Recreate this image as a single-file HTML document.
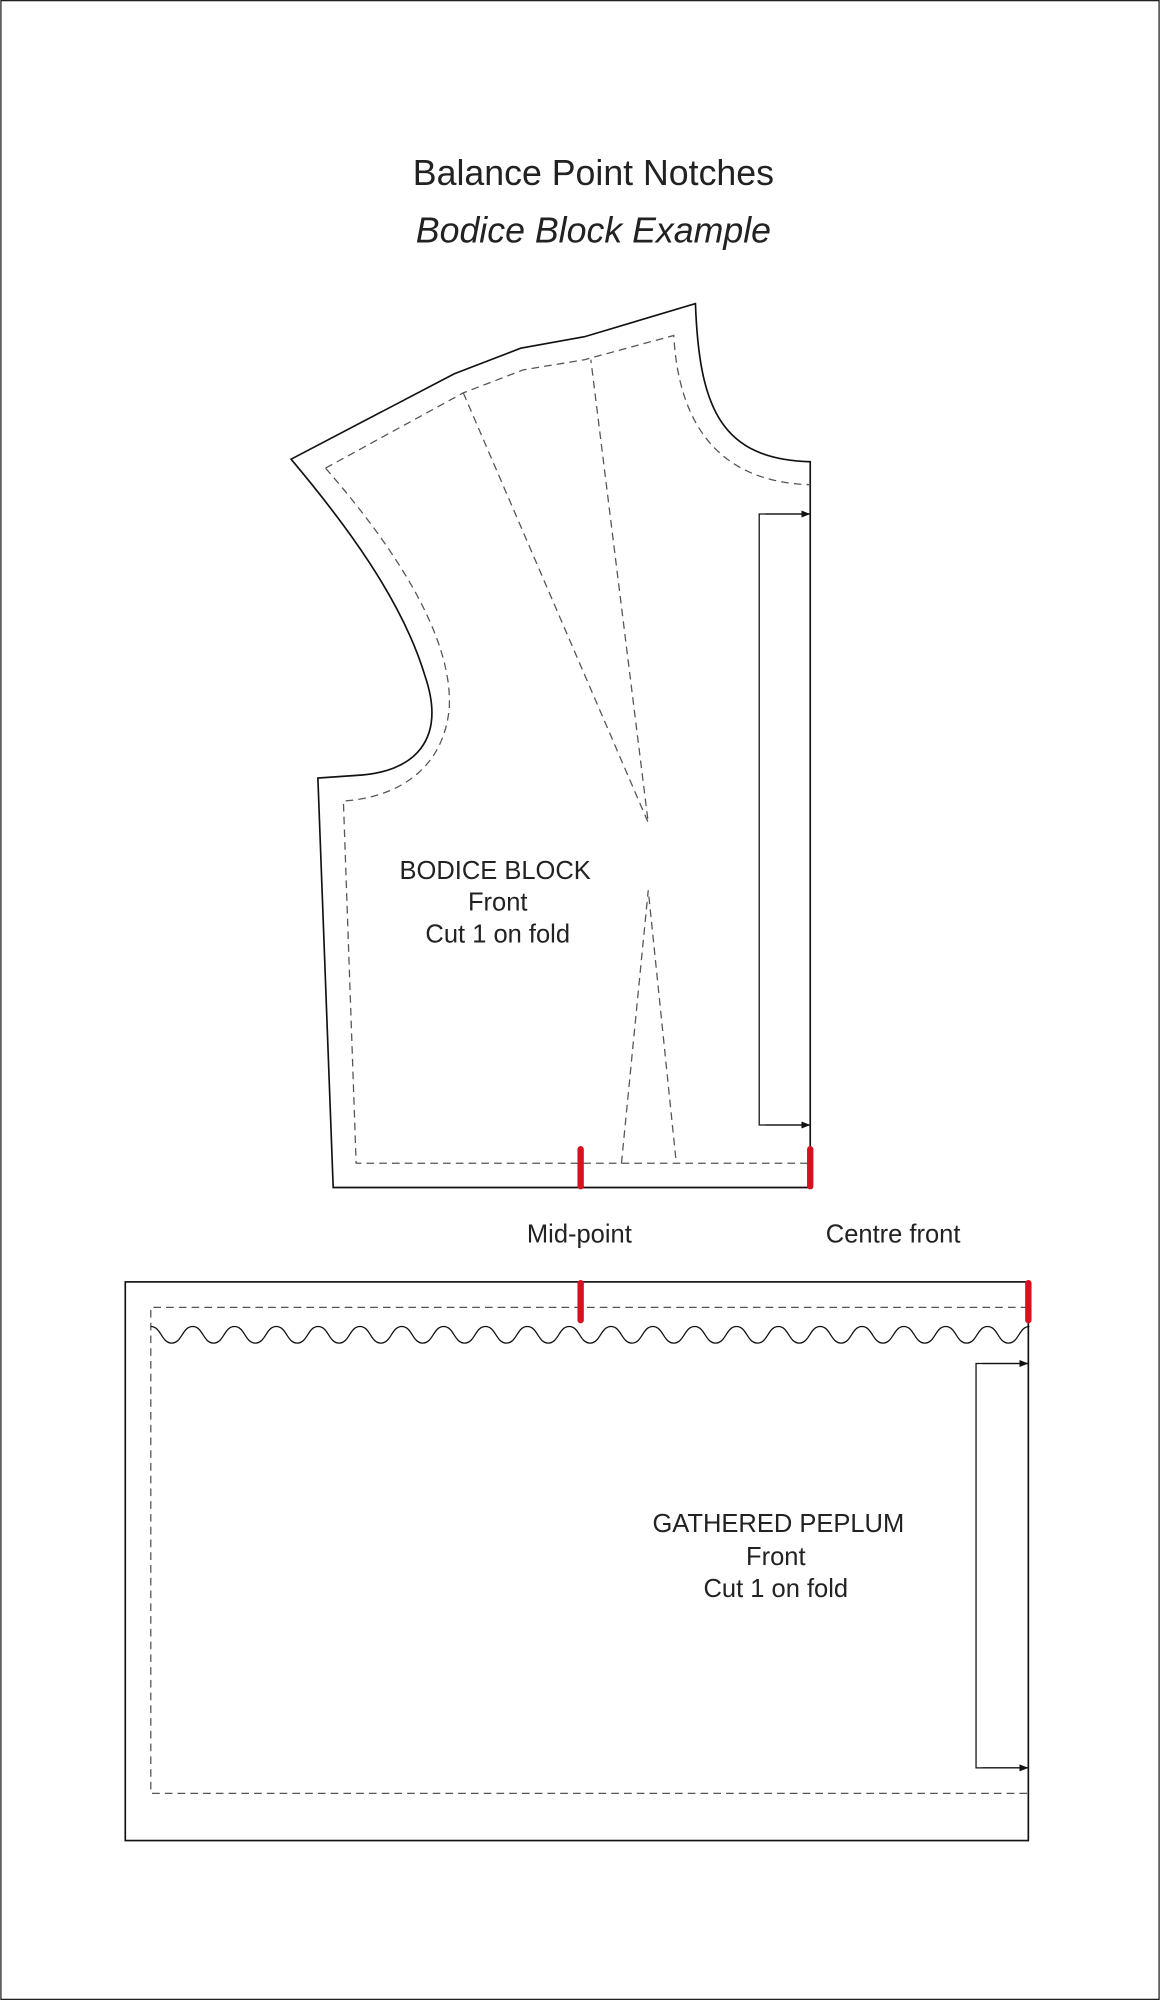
<!DOCTYPE html>
<html><head><meta charset="utf-8"><style>
html,body{margin:0;padding:0;background:#fff;}
svg{display:block;}
text{font-family:"Liberation Sans",sans-serif;fill:#222;}
</style></head><body>
<svg width="1160" height="2000" viewBox="0 0 909 1568" xmlns="http://www.w3.org/2000/svg">
<defs>
<marker id="ar" viewBox="0 0 10 10" refX="10" refY="5" markerWidth="7" markerHeight="7" markerUnits="userSpaceOnUse" orient="auto"><path d="M0,1 L10,5 L0,9 z" fill="#111"/></marker>
</defs>
<rect x="0.5" y="0.5" width="908" height="1567" fill="#fff" stroke="#222" stroke-width="1"/>
<text x="465" y="145" font-size="28" text-anchor="middle">Balance Point Notches</text>
<text x="465" y="190" font-size="28" text-anchor="middle" font-style="italic">Bodice Block Example</text>

<path d="M228,360 L356,293 L408,273 L458,264 L545,238 C548,320 565,360 635,362 L635,931 L261,931 L249,610 L278,608 C325,606 350,580 333,530 C315,470 270,410 228,360 Z" fill="none" stroke="#111" stroke-width="1.3"/>
<g fill="none" stroke="#555" stroke-width="1" stroke-dasharray="6,4">
<path d="M255,367 L363,308 L410,290 L458,282 L528,263 C532,335 565,378 635,380"/>
<path d="M255,367 C310,430 355,500 352,555 C348,600 315,625 269,628 L279,912 L635,912"/>
<path d="M363,308 L508,645 L463,282"/>
<path d="M487,912 L508,698 L530,912"/>
</g>
<g fill="none" stroke="#111" stroke-width="1">
<path d="M635,403 L595,403 L595,882 L635,882" />
<line x1="600" y1="403" x2="635" y2="403" marker-end="url(#ar)"/>
<line x1="600" y1="882" x2="635" y2="882" marker-end="url(#ar)"/>
</g>
<g stroke="#d8101f" stroke-width="5" stroke-linecap="round">
<line x1="455" y1="901" x2="455" y2="930"/>
<line x1="635" y1="901" x2="635" y2="930"/>
</g>
<text x="388" y="689" font-size="20" text-anchor="middle">BODICE BLOCK</text>
<text x="390" y="714" font-size="20" text-anchor="middle">Front</text>
<text x="390" y="739" font-size="20" text-anchor="middle">Cut 1 on fold</text>

<text x="454" y="974" font-size="20" text-anchor="middle">Mid-point</text>
<text x="700" y="974" font-size="20" text-anchor="middle">Centre front</text>

<rect x="98" y="1005" width="708" height="438" fill="none" stroke="#111" stroke-width="1.3"/>
<path d="M806,1025 L118,1025 L118,1406 L806,1406" fill="none" stroke="#555" stroke-width="1" stroke-dasharray="6,4"/>
<path fill="none" stroke="#111" stroke-width="1" d="M118,1040 c8.2,0 8.2,13 16.4,13 c8.2,0 8.2,-13 16.4,-13 c8.2,0 8.2,13 16.4,13 c8.2,0 8.2,-13 16.4,-13 c8.2,0 8.2,13 16.4,13 c8.2,0 8.2,-13 16.4,-13 c8.2,0 8.2,13 16.4,13 c8.2,0 8.2,-13 16.4,-13 c8.2,0 8.2,13 16.4,13 c8.2,0 8.2,-13 16.4,-13 c8.2,0 8.2,13 16.4,13 c8.2,0 8.2,-13 16.4,-13 c8.2,0 8.2,13 16.4,13 c8.2,0 8.2,-13 16.4,-13 c8.2,0 8.2,13 16.4,13 c8.2,0 8.2,-13 16.4,-13 c8.2,0 8.2,13 16.4,13 c8.2,0 8.2,-13 16.4,-13 c8.2,0 8.2,13 16.4,13 c8.2,0 8.2,-13 16.4,-13 c8.2,0 8.2,13 16.4,13 c8.2,0 8.2,-13 16.4,-13 c8.2,0 8.2,13 16.4,13 c8.2,0 8.2,-13 16.4,-13 c8.2,0 8.2,13 16.4,13 c8.2,0 8.2,-13 16.4,-13 c8.2,0 8.2,13 16.4,13 c8.2,0 8.2,-13 16.4,-13 c8.2,0 8.2,13 16.4,13 c8.2,0 8.2,-13 16.4,-13 c8.2,0 8.2,13 16.4,13 c8.2,0 8.2,-13 16.4,-13 c8.2,0 8.2,13 16.4,13 c8.2,0 8.2,-13 16.4,-13 c8.2,0 8.2,13 16.4,13 c8.2,0 8.2,-13 16.4,-13 c8.2,0 8.2,13 16.4,13 c8.2,0 8.2,-13 16.4,-13 c8.2,0 8.2,13 16.4,13 c8.2,0 8.2,-13 16.4,-13 c8.2,0 8.2,13 16.4,13 c8.2,0 8.2,-13 16.4,-13"/>
<g fill="none" stroke="#111" stroke-width="1">
<path d="M806,1069 L765,1069 L765,1386 L806,1386"/>
<line x1="770" y1="1069" x2="806" y2="1069" marker-end="url(#ar)"/>
<line x1="770" y1="1386" x2="806" y2="1386" marker-end="url(#ar)"/>
</g>
<g stroke="#d8101f" stroke-width="5" stroke-linecap="round">
<line x1="455" y1="1006" x2="455" y2="1035"/>
<line x1="806" y1="1006" x2="806" y2="1035"/>
</g>
<text x="610" y="1201" font-size="20" text-anchor="middle">GATHERED PEPLUM</text>
<text x="608" y="1227" font-size="20" text-anchor="middle">Front</text>
<text x="608" y="1252" font-size="20" text-anchor="middle">Cut 1 on fold</text>
</svg>
</body></html>
